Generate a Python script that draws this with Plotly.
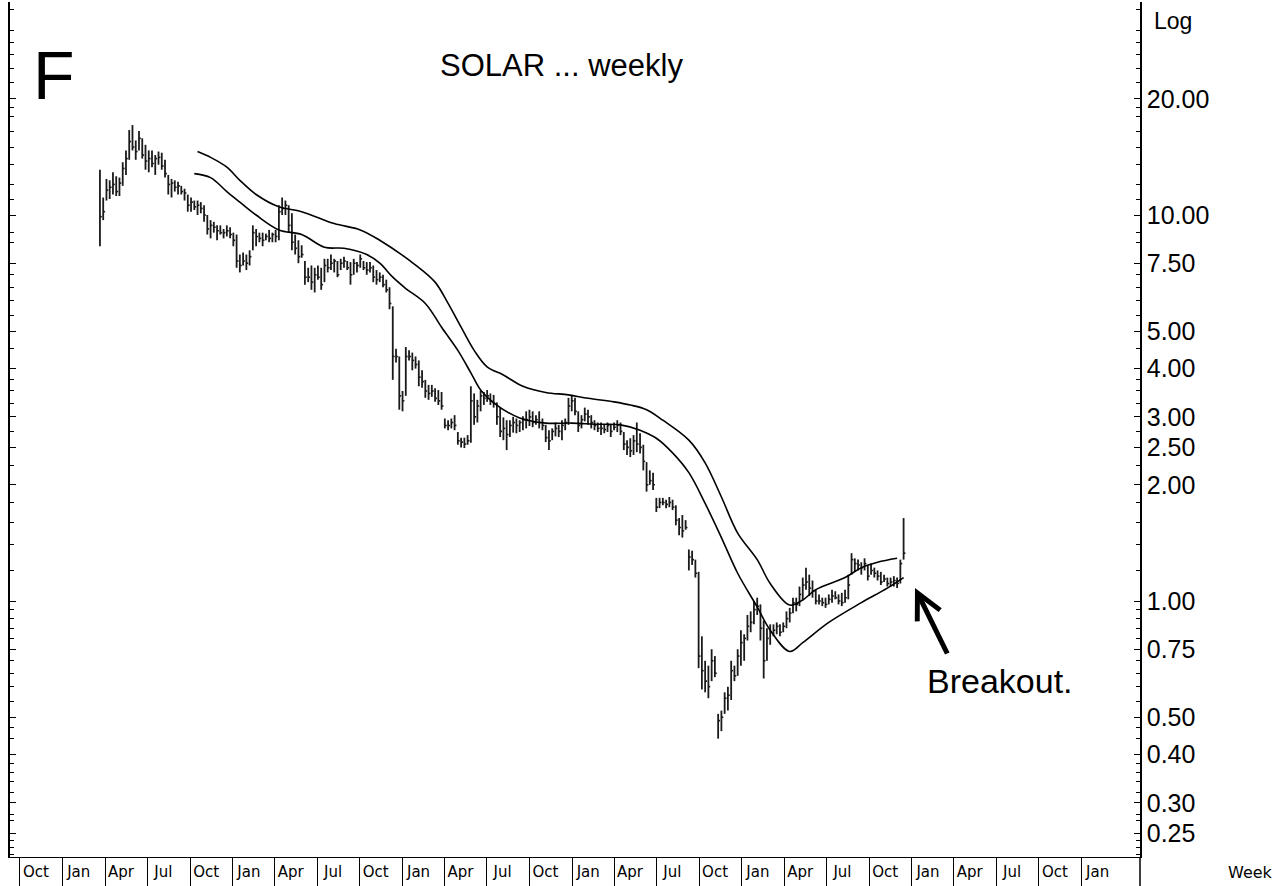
import math
import pandas as pd
import plotly.graph_objects as go

# ---------------- data ----------------
first_week = "2008-03-21"
n_weeks = 248

highs = [
    13.1, 11.1, 12.4, 12.3, 12.9, 12.6, 12.5, 13.7, 14.7, 16.6,
    17.1, 15.6, 16.5, 15.8, 15.2, 14.7, 14.7, 14.3, 14.6, 14.5,
    13.9, 12.7, 12.4, 12.3, 12.2, 11.9, 11.7, 11.3, 11.1, 10.9,
    10.9, 10.8, 10.6, 10.0, 9.7, 9.6, 9.4, 9.4, 9.2, 9.4,
    9.3, 9.0, 8.9, 7.9, 8.0, 7.9, 8.1, 9.4, 9.2, 9.0,
    9.0, 8.95, 9.15, 9.0, 9.15, 10.6, 11.1, 10.9, 10.6, 10.1,
    8.9, 8.6, 8.35, 7.6, 7.3, 7.4, 7.3, 7.4, 7.3, 7.7,
    7.7, 7.9, 7.7, 7.6, 7.7, 7.8, 7.6, 7.55, 7.7, 7.55,
    7.9, 7.6, 7.55, 7.55, 7.4, 7.2, 7.1, 7.0, 6.8, 6.5,
    5.8, 4.5, 4.3, 3.5, 4.55, 4.46, 4.4, 4.3, 4.2, 3.96,
    3.74, 3.63, 3.63, 3.56, 3.52, 3.48, 2.97, 2.94, 2.97, 3.03,
    2.74, 2.65, 2.65, 2.69, 3.6, 3.45, 3.32, 3.5, 3.48, 3.52,
    3.45, 3.42, 3.27, 3.17, 2.99, 2.94, 2.94, 3.0, 2.97, 2.94,
    3.01, 3.1, 3.13, 3.1, 3.03, 3.1, 2.97, 2.86, 2.77, 2.8,
    2.9, 2.86, 2.94, 2.97, 3.36, 3.42, 3.36, 3.1, 3.03, 3.17,
    3.13, 3.03, 2.94, 2.9, 2.9, 2.86, 2.9, 2.86, 2.9, 2.94,
    2.9, 2.74, 2.61, 2.64, 2.69, 2.9, 2.72, 2.54, 2.29, 2.18,
    2.15, 1.85, 1.85, 1.85, 1.83, 1.86, 1.83, 1.77, 1.64, 1.67,
    1.62, 1.36, 1.35, 1.28, 1.19, 0.81, 0.7, 0.68, 0.75, 0.72,
    0.51, 0.52, 0.58, 0.6, 0.7, 0.68, 0.75, 0.84, 0.82, 0.92,
    0.94, 1.0, 1.02, 0.98, 0.89, 0.85, 0.87, 0.87, 0.88, 0.87,
    0.88, 0.94, 0.96, 1.02, 1.02, 1.09, 1.15, 1.22, 1.17, 1.13,
    1.07, 1.04, 1.02, 1.02, 1.04, 1.07, 1.06, 1.04, 1.05, 1.07,
    1.17, 1.33, 1.29, 1.28, 1.26, 1.29, 1.24, 1.25, 1.22, 1.2,
    1.19, 1.17, 1.15, 1.15, 1.16, 1.15, 1.28, 1.64,
]

lows = [
    8.3, 9.7, 10.9, 11.0, 11.3, 11.2, 11.2, 11.9, 12.7, 13.9,
    14.7, 13.9, 14.7, 14.0, 13.1, 12.9, 13.3, 12.7, 13.5, 13.1,
    12.5, 11.3, 11.1, 11.5, 11.3, 11.3, 10.9, 10.2, 10.2, 10.3,
    10.0, 10.1, 9.6, 8.9, 8.7, 9.0, 8.6, 8.9, 8.7, 8.8,
    8.7, 8.3, 7.3, 7.1, 7.4, 7.2, 7.4, 8.1, 8.3, 8.5,
    8.3, 8.6, 8.5, 8.5, 8.5, 8.6, 10.0, 10.0, 9.0, 8.1,
    7.9, 7.5, 7.75, 6.6, 6.7, 6.4, 6.3, 6.8, 6.4, 6.7,
    7.1, 7.2, 7.1, 6.9, 7.2, 7.3, 7.2, 6.6, 7.0, 7.1,
    7.3, 7.2, 7.0, 7.1, 6.7, 6.6, 6.7, 6.5, 6.3, 5.7,
    3.74, 4.15, 3.13, 3.1, 3.4, 4.2, 3.96, 4.0, 3.6, 3.57,
    3.36, 3.32, 3.38, 3.28, 3.22, 3.13, 2.8, 2.77, 2.8, 2.77,
    2.54, 2.5, 2.49, 2.54, 2.57, 2.86, 2.9, 3.1, 3.22, 3.28,
    3.22, 3.17, 2.86, 2.66, 2.61, 2.46, 2.66, 2.73, 2.72, 2.74,
    2.77, 2.8, 2.84, 2.82, 2.86, 2.8, 2.77, 2.58, 2.46, 2.61,
    2.67, 2.66, 2.61, 2.77, 2.86, 3.1, 3.03, 2.74, 2.8, 2.92,
    2.86, 2.8, 2.77, 2.74, 2.69, 2.72, 2.74, 2.66, 2.77, 2.74,
    2.69, 2.46, 2.39, 2.36, 2.39, 2.43, 2.41, 2.18, 1.92, 2.0,
    1.94, 1.7, 1.74, 1.77, 1.74, 1.75, 1.72, 1.57, 1.48, 1.46,
    1.53, 1.2, 1.24, 1.15, 0.67, 0.59, 0.58, 0.56, 0.62, 0.635,
    0.44, 0.46, 0.51, 0.52, 0.554, 0.62, 0.64, 0.68, 0.70, 0.79,
    0.83, 0.87, 0.92, 0.79, 0.63, 0.70, 0.77, 0.81, 0.82, 0.81,
    0.83, 0.85, 0.88, 0.93, 0.94, 0.97, 1.01, 1.07, 1.03, 1.02,
    0.98, 0.98, 0.97, 0.96, 0.98, 0.99, 1.01, 0.98, 0.97, 0.99,
    1.01, 1.17, 1.19, 1.2, 1.17, 1.2, 1.13, 1.17, 1.15, 1.13,
    1.1, 1.12, 1.09, 1.09, 1.09, 1.08, 1.11, 1.28,
]

closes = [
    9.9, 10.2, 11.6, 11.8, 12.0, 11.5, 12.1, 13.2, 14.0, 15.5,
    15.0, 14.6, 15.8, 14.3, 13.8, 14.0, 13.6, 14.0, 14.1, 13.4,
    12.8, 12.0, 12.1, 11.8, 11.9, 11.5, 11.4, 10.6, 10.8, 10.5,
    10.6, 10.4, 10.0, 9.2, 9.4, 9.3, 9.1, 9.0, 9.0, 9.1,
    8.9, 8.6, 7.6, 7.4, 7.6, 7.5, 7.8, 9.0, 8.8, 8.7,
    8.6, 8.8, 8.7, 8.9, 8.8, 10.2, 10.4, 10.6, 9.4, 8.5,
    8.2, 7.8, 7.9, 6.9, 6.9, 6.7, 7.0, 6.9, 6.6, 7.4,
    7.3, 7.5, 7.6, 7.0, 7.5, 7.6, 7.3, 7.0, 7.5, 7.4,
    7.7, 7.3, 7.2, 7.3, 6.9, 6.8, 6.9, 6.6, 6.4, 5.9,
    4.3, 4.3, 3.4, 3.3, 4.3, 4.3, 4.2, 4.1, 3.8, 3.7,
    3.5, 3.45, 3.5, 3.35, 3.3, 3.2, 2.85, 2.85, 2.9, 2.85,
    2.6, 2.58, 2.55, 2.6, 3.3, 3.0, 3.2, 3.4, 3.35, 3.4,
    3.3, 3.25, 3.0, 2.75, 2.8, 2.7, 2.85, 2.9, 2.85, 2.9,
    2.95, 2.95, 3.0, 2.9, 2.95, 2.9, 2.85, 2.65, 2.6, 2.75,
    2.8, 2.75, 2.85, 2.9, 3.2, 3.3, 3.1, 2.85, 2.95, 3.05,
    3.0, 2.9, 2.85, 2.8, 2.8, 2.78, 2.85, 2.75, 2.82, 2.86,
    2.75, 2.55, 2.5, 2.45, 2.6, 2.55, 2.5, 2.3, 2.0, 2.05,
    2.0, 1.75, 1.8, 1.8, 1.78, 1.8, 1.75, 1.62, 1.55, 1.52,
    1.55, 1.3, 1.28, 1.18, 0.72, 0.66, 0.62, 0.6, 0.7, 0.65,
    0.49, 0.5, 0.56, 0.57, 0.66, 0.64, 0.72, 0.78, 0.8, 0.86,
    0.88, 0.95, 0.97, 0.85, 0.7, 0.8, 0.83, 0.84, 0.86, 0.83,
    0.86, 0.9, 0.93, 0.99, 0.98, 1.04, 1.1, 1.12, 1.08, 1.06,
    1.0, 1.0, 0.99, 0.98, 1.01, 1.03, 1.02, 1.0, 0.99, 1.02,
    1.1, 1.28, 1.25, 1.24, 1.22, 1.25, 1.16, 1.2, 1.18, 1.16,
    1.12, 1.14, 1.11, 1.12, 1.13, 1.11, 1.25, 1.33,
]

# envelope lines (week index, price)
upper_idx = [30, 34, 39, 43, 48, 55, 62, 72, 80, 86, 97, 103, 107, 111, 115,
             119, 124, 130, 137, 144, 150, 158, 163, 168, 173, 181, 186, 191, 196,
             202, 206, 212, 216, 220, 229, 234, 239, 245]
upper_val = [14.6, 14.1, 13.3, 12.3, 11.3, 10.5, 10.2, 9.5, 9.15, 8.6, 7.42, 6.7,
             5.9, 5.12, 4.46, 4.04, 3.85, 3.6, 3.47, 3.42, 3.35, 3.28, 3.22, 3.13, 2.94,
             2.61, 2.28, 1.86, 1.5, 1.28, 1.11, 0.976, 1.006, 1.07, 1.15, 1.22, 1.26, 1.29]

lower_idx = [29, 34, 39, 43, 48, 55, 62, 69, 75, 82, 86, 90, 94, 100, 105, 110, 114,
             117, 121, 129, 137, 145, 153, 160, 166, 171, 176, 181, 186, 191, 196, 202,
             206, 212, 216, 224, 234, 242, 247]
lower_val = [12.8, 12.5, 11.5, 10.8, 10.0, 9.15, 8.9, 8.25, 8.2, 7.9, 7.5, 6.9, 6.45,
             5.9, 5.12, 4.46, 3.9, 3.52, 3.26, 2.98, 2.89, 2.89, 2.87, 2.86, 2.77, 2.64,
             2.42, 2.15, 1.79, 1.46, 1.18, 0.965, 0.84, 0.74, 0.78, 0.88, 0.99, 1.08, 1.15]

# axis labels
quarter_labels = ["Oct", "Jan", "Apr", "Jul"] * 6 + ["Oct", "Jan"]
quarter_start = "2007-10-01"
y_tick_vals = [0.25, 0.3, 0.4, 0.5, 0.75, 1, 2, 2.5, 3, 4, 5, 7.5, 10, 20]
y_minor_vals = [0.22, 0.23, 0.24, 0.27, 0.28, 0.32, 0.34, 0.36, 0.38, 0.44, 0.47,
                0.55, 0.6, 0.65, 0.7, 0.8, 0.85, 0.9, 0.95, 1.2, 1.4, 1.6, 1.8,
                2.25, 2.75, 3.25, 3.5, 3.75, 4.5, 5.5, 6, 6.5, 7, 8.5, 9,
                11, 12, 13.5, 15, 16.5, 18, 19, 22, 24, 26, 28, 30, 34]

# ---------------- figure ----------------
dates = pd.date_range(first_week, periods=n_weeks, freq="7D")
tick_off = pd.Timedelta(days=4)

bx, by = [], []
for d, h, l in zip(dates, highs, lows):
    bx += [d, d, None]
    by += [l, h, None]
cx, cy = [], []
for d, c in zip(dates, closes):
    cx += [d, d + tick_off, None]
    cy += [c, c, None]

fig = go.Figure()
fig.add_trace(go.Scatter(x=bx, y=by, mode="lines", line=dict(color="#1a1a1a", width=1.8),
                         hoverinfo="skip", showlegend=False))
fig.add_trace(go.Scatter(x=cx, y=cy, mode="lines", line=dict(color="#1a1a1a", width=1.6),
                         hoverinfo="skip", showlegend=False))
fig.add_trace(go.Scatter(x=[dates[i] for i in upper_idx], y=upper_val, mode="lines",
                         line=dict(color="black", width=1.6, shape="spline", smoothing=1.0),
                         showlegend=False))
fig.add_trace(go.Scatter(x=[dates[i] for i in lower_idx], y=lower_val, mode="lines",
                         line=dict(color="black", width=1.6, shape="spline", smoothing=1.0),
                         showlegend=False))

qdates = pd.date_range(quarter_start, periods=len(quarter_labels), freq="QS-OCT")

W, H = 1285, 886
ml, mr, mt, mb = 10, 145, 2, 29
pw, ph = W - ml - mr, H - mt - mb


def px(x):
    return (x - ml) / pw


def py(y):
    return (H - mb - y) / ph


fig.update_layout(
    width=W, height=H,
    margin=dict(l=ml, r=mr, t=mt, b=mb, pad=0, autoexpand=False),
    paper_bgcolor="white", plot_bgcolor="white",
    font=dict(family="Liberation Sans, Arial, sans-serif", color="black"),
    xaxis=dict(
        type="date", range=["2007-09-09 12:00", "2014-05-06 14:00"],
        tickmode="array", tickvals=list(qdates), ticktext=quarter_labels,
        ticks="outside", ticklen=29, tickcolor="black", tickwidth=1,
        ticklabelstandoff=-28, ticklabelshift=16,
        tickfont=dict(family="DejaVu Sans", size=15, color="black"),
        showline=True, linecolor="black", linewidth=1.2,
        showgrid=False, zeroline=False, automargin=False,
    ),
    yaxis=dict(
        type="log", side="right",
        range=[(601 - 857) / 386, (601 - 2) / 386],
        tickmode="array", tickvals=y_tick_vals,
        ticktext=[f"{v:.2f}" for v in y_tick_vals],
        ticks="inside", ticklen=6, tickcolor="black", tickwidth=1.2,
        tickfont=dict(family="Liberation Sans", size=25, color="black"),
        showline=True, linecolor="black", linewidth=1.5, mirror="allticks",
        showgrid=False, zeroline=False, automargin=False,
        minor=dict(tickmode="array", tickvals=y_minor_vals, ticks="inside",
                   ticklen=4, tickcolor="black", tickwidth=1, showgrid=False),
    ),
    shapes=[
        dict(type="line", xref="paper", yref="paper", x0=1, x1=1, y0=0, y1=-mb / ph,
             line=dict(color="black", width=1.5)),
    ],
    annotations=[
        dict(text="F", xref="paper", yref="paper", x=px(54), y=py(75), showarrow=False,
             xanchor="center", yanchor="middle", font=dict(size=68, family="Liberation Sans")),
        dict(text="SOLAR ... weekly", xref="paper", yref="paper", x=px(561), y=py(66),
             showarrow=False, xanchor="center", yanchor="middle",
             font=dict(size=31, family="Liberation Sans")),
        dict(text="Breakout.", xref="paper", yref="paper", x=px(1000), y=py(681),
             showarrow=False, xanchor="center", yanchor="middle",
             font=dict(size=34, family="Liberation Sans")),
        dict(text="Log", xref="paper", yref="paper", x=px(1173), y=py(21), showarrow=False,
             xanchor="center", yanchor="middle", font=dict(size=23, family="Liberation Sans")),
        dict(text="Week", xref="paper", yref="paper", x=px(1250), y=py(872), showarrow=False,
             xanchor="center", yanchor="middle", font=dict(size=16, family="DejaVu Sans")),
        dict(text="", xref="paper", yref="paper", x=px(915), y=py(588), showarrow=True,
             ax=33, ay=67, arrowhead=5, arrowsize=1.0, arrowwidth=5, arrowcolor="black",
             standoff=0),
    ],
)

fig.write_html("out.html",
               config={"displayModeBar": False},
               post_script="document.body.style.margin='0px';document.body.style.overflow='hidden';")
